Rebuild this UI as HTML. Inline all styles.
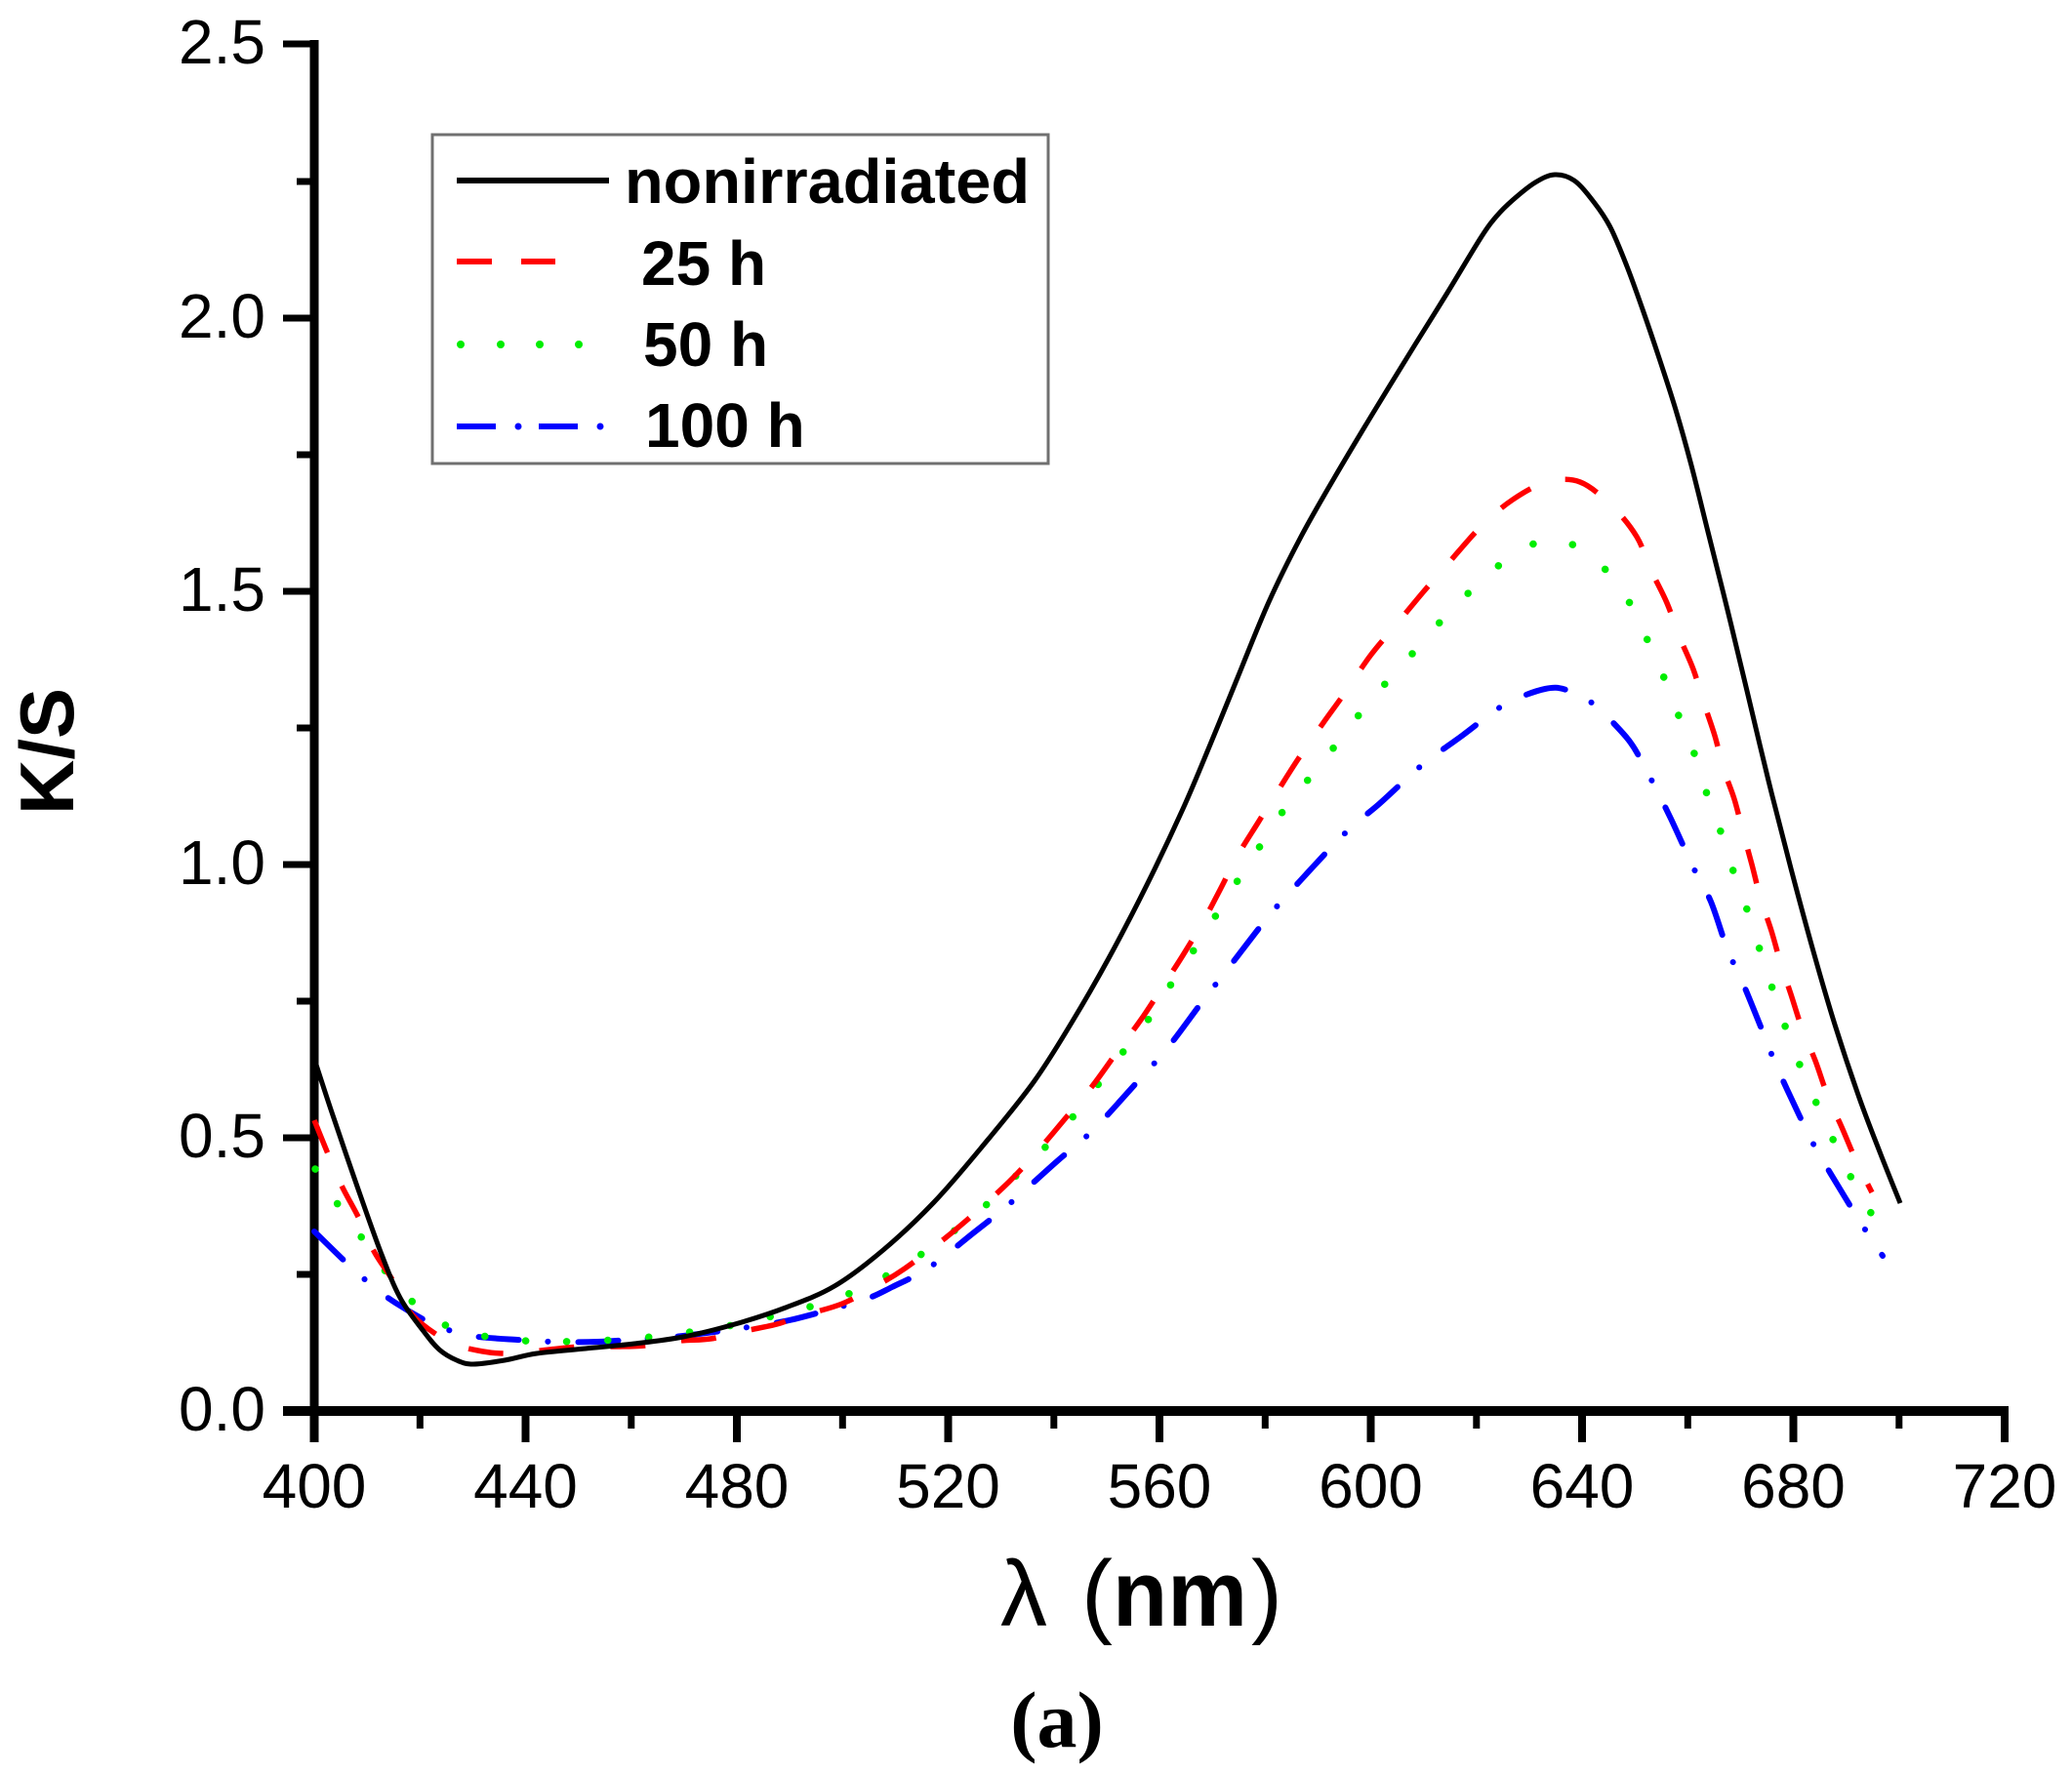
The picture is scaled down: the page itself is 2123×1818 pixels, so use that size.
<!DOCTYPE html>
<html>
<head>
<meta charset="utf-8">
<style>
html,body{margin:0;padding:0;background:#fff;}
svg{display:block;}
</style>
</head>
<body>
<svg id="chart" xmlns="http://www.w3.org/2000/svg" width="2123" height="1818" viewBox="0 0 2123 1818">
<rect x="0" y="0" width="2123" height="1818" fill="#ffffff"/>

<!-- Axes -->
<g stroke="#000" stroke-linecap="butt" fill="none">
  <line x1="322" y1="41" x2="322" y2="1478" stroke-width="9"/>
  <line x1="290" y1="1446" x2="2058" y2="1446" stroke-width="10"/>
  <g stroke-width="7">
    <line x1="290" y1="45" x2="322" y2="45"/>
    <line x1="290" y1="326" x2="322" y2="326"/>
    <line x1="290" y1="606" x2="322" y2="606"/>
    <line x1="290" y1="886" x2="322" y2="886"/>
    <line x1="290" y1="1166" x2="322" y2="1166"/>
  </g>
  <g stroke-width="7">
    <line x1="304" y1="186" x2="322" y2="186"/>
    <line x1="304" y1="466" x2="322" y2="466"/>
    <line x1="304" y1="746" x2="322" y2="746"/>
    <line x1="304" y1="1026" x2="322" y2="1026"/>
    <line x1="304" y1="1306" x2="322" y2="1306"/>
  </g>
  <g stroke-width="8">
    <line x1="538.5" y1="1446" x2="538.5" y2="1478"/>
    <line x1="755" y1="1446" x2="755" y2="1478"/>
    <line x1="971.5" y1="1446" x2="971.5" y2="1478"/>
    <line x1="1188" y1="1446" x2="1188" y2="1478"/>
    <line x1="1404.5" y1="1446" x2="1404.5" y2="1478"/>
    <line x1="1621" y1="1446" x2="1621" y2="1478"/>
    <line x1="1837.5" y1="1446" x2="1837.5" y2="1478"/>
    <line x1="2054" y1="1441" x2="2054" y2="1478"/>
  </g>
  <g stroke-width="7">
    <line x1="430.3" y1="1446" x2="430.3" y2="1464"/>
    <line x1="646.8" y1="1446" x2="646.8" y2="1464"/>
    <line x1="863.3" y1="1446" x2="863.3" y2="1464"/>
    <line x1="1079.8" y1="1446" x2="1079.8" y2="1464"/>
    <line x1="1296.3" y1="1446" x2="1296.3" y2="1464"/>
    <line x1="1512.8" y1="1446" x2="1512.8" y2="1464"/>
    <line x1="1729.3" y1="1446" x2="1729.3" y2="1464"/>
    <line x1="1945.8" y1="1446" x2="1945.8" y2="1464"/>
  </g>
</g>

<!-- Tick labels -->
<g font-family="'Liberation Sans', Arial, sans-serif" font-size="64" fill="#000">
  <g text-anchor="end">
    <text x="272" y="65">2.5</text>
    <text x="272" y="346">2.0</text>
    <text x="272" y="626">1.5</text>
    <text x="272" y="906">1.0</text>
    <text x="272" y="1186">0.5</text>
    <text x="272" y="1466">0.0</text>
  </g>
  <g text-anchor="middle">
    <text x="322" y="1545">400</text>
    <text x="538.5" y="1545">440</text>
    <text x="755" y="1545">480</text>
    <text x="971.5" y="1545">520</text>
    <text x="1188" y="1545">560</text>
    <text x="1404.5" y="1545">600</text>
    <text x="1621" y="1545">640</text>
    <text x="1837.5" y="1545">680</text>
    <text x="2054" y="1545">720</text>
  </g>
</g>

<!-- Axis titles -->
<text x="75" y="770" transform="rotate(-90 75 770)" text-anchor="middle" font-family="'Liberation Sans', Arial, sans-serif" font-weight="bold" font-size="78" fill="#000">K/S</text>

<text y="1666" font-family="'Liberation Sans', Arial, sans-serif" font-size="96" fill="#000"><tspan x="1025">λ</tspan><tspan x="1108">(</tspan><tspan x="1140" font-weight="bold" textLength="138" lengthAdjust="spacingAndGlyphs">nm</tspan><tspan x="1282">)</tspan></text>

<text x="1083" y="1790" text-anchor="middle" font-family="'Liberation Serif', 'Times New Roman', serif" font-weight="bold" font-size="82" fill="#000">(a)</text>

<!-- Curves -->
<g fill="none" stroke-linejoin="round">
  <polyline class="s" stroke="#0000ff" stroke-width="6" stroke-linecap="round" stroke-dasharray="41 30 0.1 31"
    points="322,1262 358,1297 382,1318 405,1335 443,1357 467,1365 490,1370 530,1373 567,1375 612,1375 660,1372 700,1369 753,1362 804,1354 847,1343 888,1331 914,1319 952,1299 998,1263 1034,1234 1082,1191 1120,1158 1165,1109 1197,1073 1233,1025 1261,989 1299,940 1330,905 1378,854 1413,824 1438,801 1462,780 1498,754 1523,735 1547,719 1583,706 1605,707 1632,721 1666,755 1681,778 1695,805 1712,839 1735,889 1753,924 1770,973 1786,1008 1806,1057 1820,1092 1844,1144 1860,1176 1891,1228 1911,1260 1929,1287"/>
  <polyline class="s" stroke="#00ee00" stroke-width="7.5" stroke-linecap="round" stroke-dasharray="0.1 42"
    points="323,1198 348,1237 377,1277 407,1318 445,1352 485,1367 527,1373 567,1375 647,1372 728,1362 768,1354 807,1345 847,1334 888,1318 929,1295 966,1270 1008,1237 1046,1200 1087,1159 1120,1118 1150,1079 1180,1040 1206,999 1233,959 1258,918 1283,880 1309,839 1341,798 1373,758 1404,718 1440,678 1476,637 1516,597 1556,565 1596,553 1637,576 1668,615 1688,656 1706,697 1721,736 1737,775 1750,817 1764,855 1777,896 1791,935 1804,976 1817,1016 1831,1057 1846,1096 1864,1137 1882,1176 1902,1217 1926,1258"/>
  <polyline class="s" stroke="#ff0000" stroke-width="5.5" stroke-linecap="butt" stroke-dasharray="36 37"
    points="322,1148 335,1180 350,1215 367,1247 383,1282 403,1313 423,1348 460,1375 495,1385 527,1387 563,1383 597,1380 631,1380 661,1379 697,1374 728,1372 763,1364 796,1357 819,1349 863,1336 901,1316 927,1300 967,1270 998,1244 1034,1211 1062,1181 1095,1142 1120,1112 1146,1076 1169,1045 1192,1010 1212,979 1233,944 1250,912 1268,877 1289,843 1309,811 1330,778 1355,742 1378,710 1404,672 1429,642 1458,607 1485,576 1518,539 1550,512 1585,494 1619,494 1652,519 1677,550 1692,585 1708,618 1721,653 1735,686 1746,721 1757,754 1766,788 1777,819 1786,853 1795,886 1804,921 1815,954 1825,989 1835,1019 1847,1056 1860,1087 1873,1124 1887,1155 1902,1190 1918,1222"/>
  <polyline class="s" stroke="#000000" stroke-width="5" stroke-linecap="butt"
    points="322,1085 340,1140 365,1213 390,1283 410,1330 433,1363 450,1383 468,1394 485,1398 517,1394 550,1387 600,1382 650,1377 700,1370 753,1357 805,1340 855,1318 905,1281 957,1232 1008,1173 1059,1109 1098,1048 1136,982 1175,907 1212,829 1240,763 1267,697 1300,617 1333,550 1367,490 1407,423 1450,353 1483,300 1517,244 1533,222 1550,205 1573,187 1593,179 1613,185 1633,207 1650,233 1667,273 1683,317 1700,367 1717,420 1733,477 1750,545 1770,625 1790,708 1812,800 1835,890 1858,975 1880,1050 1905,1125 1927,1183 1947,1233"/>
</g>

<!-- Legend -->
<rect x="443" y="138" width="631" height="337" fill="#ffffff" stroke="#707070" stroke-width="3"/>
<g fill="none">
  <line x1="468" y1="185" x2="624" y2="185" stroke="#000" stroke-width="6"/>
  <line x1="468" y1="268" x2="504" y2="268" stroke="#ff0000" stroke-width="6"/>
  <line x1="534" y1="268" x2="569" y2="268" stroke="#ff0000" stroke-width="6"/>
  <line x1="468" y1="437" x2="508" y2="437" stroke="#0000ff" stroke-width="6"/>
  <line x1="552" y1="437" x2="592" y2="437" stroke="#0000ff" stroke-width="6"/>
</g>
<g fill="#00ee00">
  <circle cx="472" cy="353" r="4"/>
  <circle cx="513" cy="353" r="4"/>
  <circle cx="553" cy="353" r="4"/>
  <circle cx="593" cy="353" r="4"/>
</g>
<g fill="#0000ff">
  <circle cx="531" cy="437" r="3.5"/>
  <circle cx="615" cy="437" r="3.5"/>
</g>
<g font-family="'Liberation Sans', Arial, sans-serif" font-weight="bold" font-size="64" fill="#000">
  <text x="640" y="208" textLength="415" lengthAdjust="spacingAndGlyphs">nonirradiated</text>
  <text x="657" y="292">25 h</text>
  <text x="659" y="375">50 h</text>
  <text x="661" y="458">100 h</text>
</g>
</svg>
<script>
(function(){
  var NS="http://www.w3.org/2000/svg";
  var pls=document.querySelectorAll("polyline.s");
  for(var k=0;k<pls.length;k++){
    var pl=pls[k];
    var raw=pl.getAttribute("points").trim().split(/\s+/);
    var p=[];
    for(var i=0;i<raw.length;i++){var a=raw[i].split(",");p.push([+a[0],+a[1]]);}
    var d="M"+p[0][0]+","+p[0][1];
    for(var i=0;i<p.length-1;i++){
      var p0=p[i>0?i-1:i],p1=p[i],p2=p[i+1],p3=p[i+2<p.length?i+2:i+1];
      var c1x=p1[0]+(p2[0]-p0[0])/6,c1y=p1[1]+(p2[1]-p0[1])/6;
      var c2x=p2[0]-(p3[0]-p1[0])/6,c2y=p2[1]-(p3[1]-p1[1])/6;
      d+=" C"+c1x.toFixed(2)+","+c1y.toFixed(2)+" "+c2x.toFixed(2)+","+c2y.toFixed(2)+" "+p2[0]+","+p2[1];
    }
    var path=document.createElementNS(NS,"path");
    var attrs=["stroke","stroke-width","stroke-linecap","stroke-dasharray"];
    for(var j=0;j<attrs.length;j++){var v=pl.getAttribute(attrs[j]);if(v)path.setAttribute(attrs[j],v);}
    path.setAttribute("fill","none");
    path.setAttribute("stroke-linejoin","round");
    path.setAttribute("d",d);
    pl.parentNode.replaceChild(path,pl);
  }
})();
</script>
</body>
</html>
